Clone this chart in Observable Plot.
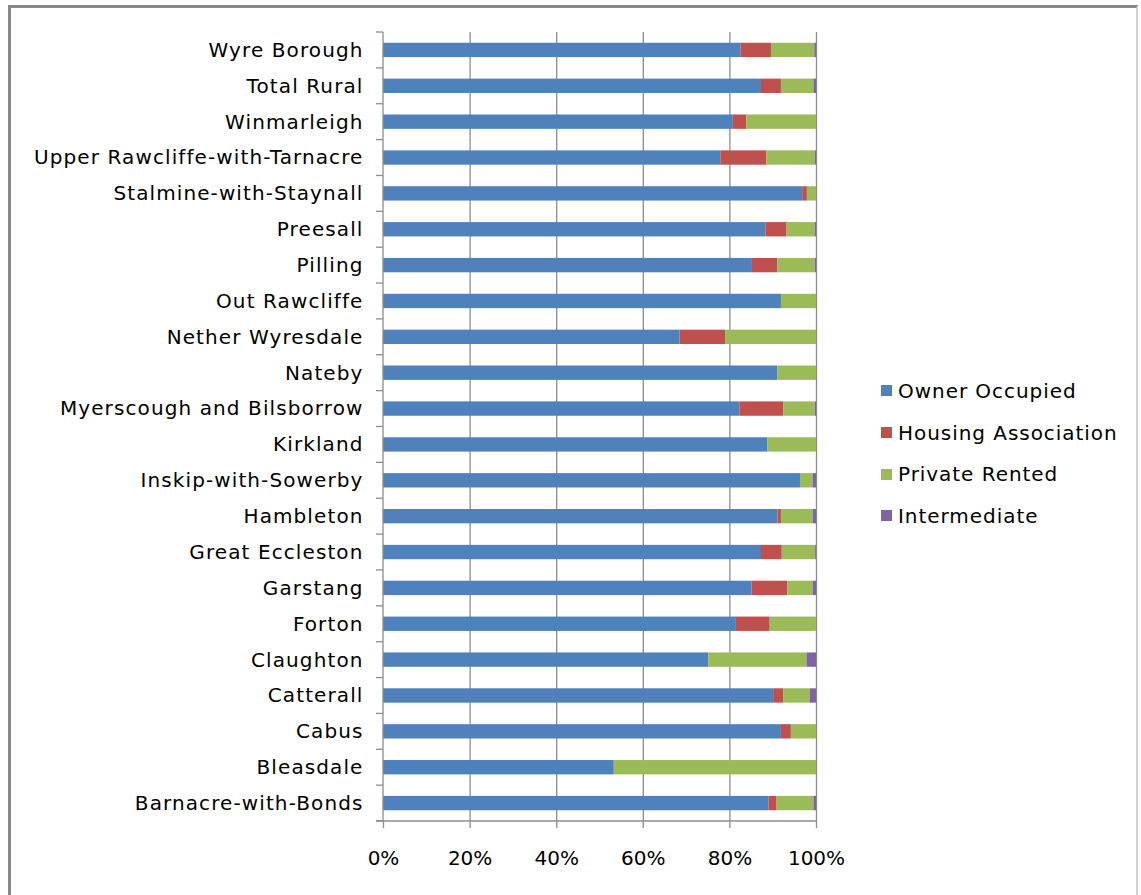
<!DOCTYPE html>
<html>
<head>
<meta charset="utf-8">
<script src="https://cdn.jsdelivr.net/npm/d3@7"></script>
<script src="https://cdn.jsdelivr.net/npm/@observablehq/plot@0.6"></script>
<style>
  html, body { margin: 0; padding: 0; background: #fff; overflow: hidden; }
  #wrap { position: relative; width: 1141px; height: 895px; }
  #frame { position: absolute; left: 8px; top: 5px; width: 1130px; height: 900px;
           border-left: 3px solid #878787; border-top: 3px solid #878787; border-right: 2px solid #d0d0d0; box-sizing: border-box; }
  #chart { position: absolute; left: 0; top: 0; }
  #legend { position: absolute; left: 881px; top: 370px; font-family: "DejaVu Sans", sans-serif; font-size: 20px; color: #000; letter-spacing: 0.95px; }
  .item { display: flex; align-items: center; height: 41.7px; white-space: nowrap; }
  .sw { width: 11px; height: 11px; margin-right: 6px; }
</style>
</head>
<body>
<div id="wrap">
  <div id="frame"></div>
  <div id="chart"></div>
  <div id="legend"></div>
</div>
<script>
const categories = [
  "Wyre Borough", "Total Rural", "Winmarleigh", "Upper Rawcliffe-with-Tarnacre",
  "Stalmine-with-Staynall", "Preesall", "Pilling", "Out Rawcliffe", "Nether Wyresdale",
  "Nateby", "Myerscough and Bilsborrow", "Kirkland", "Inskip-with-Sowerby", "Hambleton",
  "Great Eccleston", "Garstang", "Forton", "Claughton", "Catterall", "Cabus", "Bleasdale",
  "Barnacre-with-Bonds"
];
const seriesNames = ["Owner Occupied", "Housing Association", "Private Rented", "Intermediate"];
const ownerOccupied      = [82.6, 87.3, 80.8, 77.9, 96.8, 88.3, 85.2, 91.9, 68.5, 91.1, 82.3, 88.8, 96.3, 91.1, 87.3, 85.1, 81.5, 75.1, 90.1, 91.9, 53.3, 89.0];
const housingAssociation = [7.0, 4.6, 3.1, 10.6, 1.1, 4.9, 5.9, 0, 10.5, 0, 10.1, 0, 0, 0.8, 4.8, 8.3, 7.8, 0, 2.3, 2.3, 0, 1.9];
const privateRented      = [10.0, 7.5, 16.1, 11.2, 2.1, 6.5, 8.6, 8.1, 21.0, 8.9, 7.3, 11.2, 2.9, 7.3, 7.7, 5.8, 10.7, 22.7, 6.2, 5.8, 46.7, 8.5];
const intermediate       = [0.4, 0.6, 0, 0.3, 0, 0.3, 0.3, 0, 0, 0, 0.3, 0, 0.8, 0.8, 0.2, 0.8, 0, 2.2, 1.4, 0, 0, 0.6];
const xTicks = [0, 0.2, 0.4, 0.6, 0.8, 1];
const colors = ["#4F81BD", "#C0504D", "#9BBB59", "#8064A2"];

const seriesValues = [ownerOccupied, housingAssociation, privateRented, intermediate];
const data = [];
categories.forEach((c, i) => {
  seriesNames.forEach((s, j) => {
    data.push({category: c, series: s, value: seriesValues[j][i] / 100});
  });
});

const axisColor = "#8c8c8c";
const font = "DejaVu Sans, sans-serif";

// Excel-style axis lines and category boundary ticks
function axisDecor(...args) {
  const dims = args.find(a => a && typeof a === "object" && "marginLeft" in a && "width" in a);
  const g = d3.create("svg:g").attr("stroke", axisColor).attr("stroke-width", 1.3);
  const x0 = dims.marginLeft, x1 = dims.width - dims.marginRight;
  const y0 = dims.marginTop, y1 = dims.height - dims.marginBottom;
  const n = categories.length;
  const step = (y1 - y0) / n;
  g.append("line").attr("x1", x0).attr("x2", x0).attr("y1", y0).attr("y2", y1);
  g.append("line").attr("x1", x0 - 7).attr("x2", x1).attr("y1", y1).attr("y2", y1);
  for (let i = 0; i <= n; i++) {
    g.append("line").attr("x1", x0 - 7).attr("x2", x0).attr("y1", y0 + i * step).attr("y2", y0 + i * step);
  }
  return g.node();
}

const chart = Plot.plot({
  width: 1141,
  height: 895,
  marginLeft: 383,
  marginRight: 325,
  marginTop: 32,
  marginBottom: 74,
  style: {fontFamily: font, fontSize: "20px", color: "#000", background: "transparent", overflow: "visible"},
  x: {domain: [0, 1]},
  y: {domain: categories, paddingInner: 0.6, paddingOuter: 0.3, round: false},
  color: {domain: seriesNames, range: colors},
  marks: [
    Plot.gridX(xTicks.slice(1), {stroke: axisColor, strokeOpacity: 1, strokeWidth: 1.3}),
    Plot.barX(data, Plot.stackX({y: "category", x: "value", fill: "series"})),
    Plot.axisX(xTicks, {tickFormat: d3.format(".0%"), tickSize: 7, tickPadding: 22, stroke: axisColor, strokeWidth: 1.3, fill: "#000", fontSize: 20, label: null}),
    Plot.axisY({tickSize: 0, tickPadding: 20, fontSize: 20, fill: "#000", label: null, className: "ylab"}),
    axisDecor
  ]
});
chart.querySelectorAll("[aria-label='y-axis tick label'] text").forEach(t => t.style.letterSpacing = "1.1px");
document.getElementById("chart").appendChild(chart);

const legend = d3.select("#legend");
seriesNames.forEach((s, j) => {
  const item = legend.append("div").attr("class", "item");
  item.append("div").attr("class", "sw").style("background", colors[j]);
  item.append("span").text(s);
});
</script>
</body>
</html>
